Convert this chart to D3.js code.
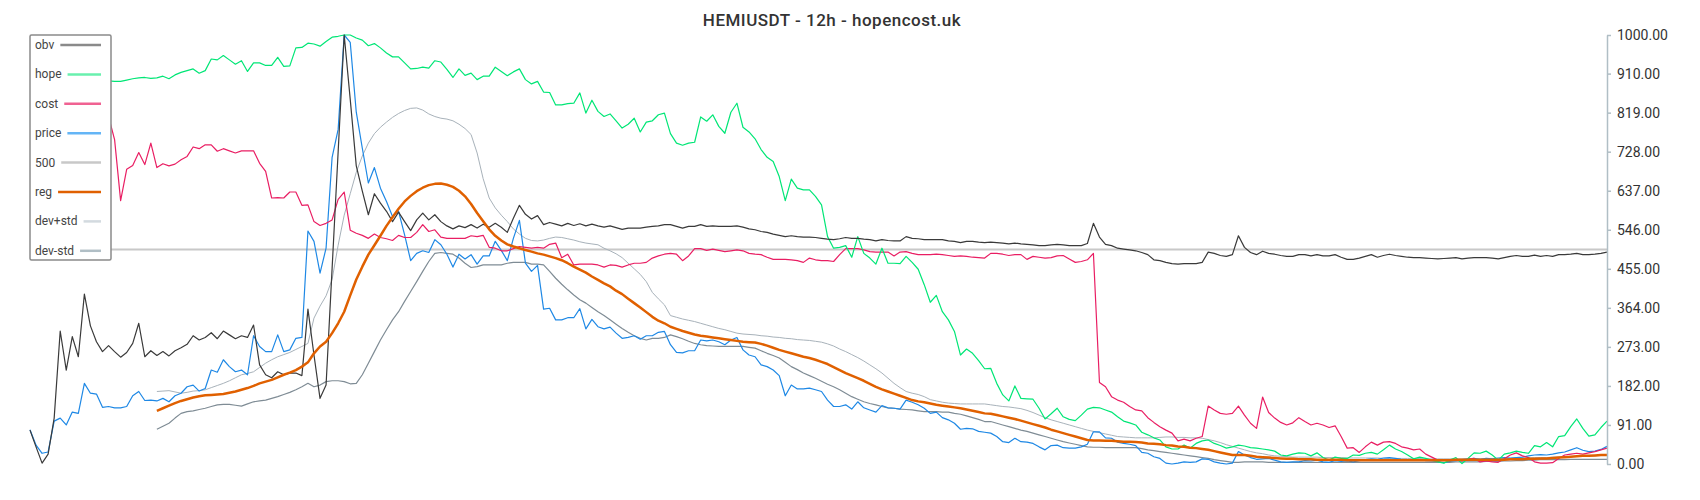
<!DOCTYPE html>
<html>
<head>
<meta charset="utf-8">
<script src="https://d3js.org/d3.v7.min.js"></script>
<style>
  body { margin: 0; background: #fff; }
  svg { display: block; font-family: Roboto, "Noto Sans", sans-serif; }
</style>
</head>
<body>
<svg id="chart" width="1700" height="500"></svg>
<script>
// chart data, one value per 12h bar
var title = "HEMIUSDT - 12h - hopencost.uk";
var yTicks = [0, 91, 182, 273, 364, 455, 546, 637, 728, 819, 910, 1000];
var barCount = 262;
var level500 = 500;

var obv = [
  79,40,2,23,107,310,219,297,250,396,
  322,285,262,276,262,249,260,281,328,250,
  264,253,262,252,264,271,279,299,289,295,
  306,292,310,301,292,299,295,324,231,208,
  201,215,208,212,212,206,361,254,153,184,
  456,728,1000,850,695,636,581,630,608,589,
  565,587,565,544,569,585,569,581,565,555,
  548,555,551,558,550,559,552,561,552,540,
  573,603,582,571,579,558,563,559,555,561,
  556,560,555,559,555,552,555,551,547,550,
  550,550,552,554,555,558,558,554,550,554,
  554,558,554,555,554,554,554,555,552,548,
  546,542,540,536,533,530,532,530,529,529,
  528,526,524,523,525,528,526,526,524,523,
  520,523,521,520,520,530,526,525,523,523,
  523,523,520,519,516,519,519,517,516,517,
  516,515,513,515,513,512,511,509,509,511,
  512,511,509,509,509,514,561,529,512,509,
  503,501,499,497,493,488,476,474,470,467,
  466,467,467,467,470,494,491,486,484,488,
  532,505,493,488,496,491,489,486,484,484,
  488,488,485,488,485,485,488,482,477,477,
  480,484,488,482,486,489,486,484,482,481,
  481,480,479,478,479,480,481,478,480,481,
  481,481,480,478,481,484,486,484,484,487,
  484,486,484,488,488,489,491,488,488,489,
  491,494
];

var price = [
  80,44,25,28,100,107,91,121,118,188,
  165,163,132,134,131,131,134,159,169,148,
  149,147,153,145,159,165,180,184,170,176,
  219,214,243,227,215,219,208,299,274,262,
  262,301,262,266,293,295,543,519,445,503,
  715,780,1000,983,820,736,655,691,643,612,
  577,589,534,474,491,497,493,523,511,489,
  459,489,478,488,466,485,485,519,498,474,
  526,568,468,449,463,361,363,336,336,341,
  341,362,315,337,320,315,319,305,293,295,
  299,291,299,299,307,309,278,260,259,264,
  264,289,287,289,285,278,289,295,266,254,
  250,231,227,219,206,159,184,175,175,177,
  173,169,149,134,134,138,128,145,131,126,
  121,136,131,130,128,149,144,138,130,118,
  121,108,103,95,81,83,82,76,74,72,
  64,52,50,60,52,51,48,40,33,43,
  44,38,37,37,40,46,75,75,61,60,
  51,48,46,43,27,25,17,13,2,0,
  2,5,4,5,12,11,5,2,0,2,
  29,21,15,11,12,13,9,5,4,5,
  5,8,7,9,5,4,8,6,7,5,
  8,10,12,11,14,15,13,11,10,9,
  11,8,7,6,3,6,8,10,12,13,
  11,13,12,14,15,14,15,16,19,21,
  22,21,23,26,28,33,38,32,29,30,
  34,41
];

// hope and cost begin at bar 13
var hopeStart = 13;
var hope = [
  893,892,892,895,898,900,901,899,900,904,
  898,907,913,917,921,911,917,944,942,952,
  942,932,940,915,935,935,929,929,948,927,
  928,970,971,981,979,974,985,995,997,1000,
  1000,993,988,975,980,970,958,949,949,935,
  921,922,925,923,940,937,920,901,921,906,
  911,896,904,904,925,915,905,914,921,896,
  886,892,867,866,837,837,840,841,865,818,
  848,822,810,816,800,783,792,806,774,797,
  800,814,818,770,748,743,748,750,809,799,
  814,787,771,820,841,785,774,758,733,715,
  705,670,614,664,643,639,639,624,604,530,
  503,505,509,482,530,491,480,466,503,468,
  468,467,484,470,454,418,377,393,355,336,
  309,254,268,258,241,222,223,188,161,147,
  182,153,152,151,130,105,117,130,110,104,
  101,114,128,132,131,126,121,110,100,96,
  91,74,68,61,56,40,35,35,44,37,
  48,54,56,48,43,37,40,44,42,38,
  37,35,33,30,21,19,23,26,25,19,
  26,15,9,16,13,13,21,20,25,27,
  23,33,44,35,29,21,12,16,13,9,
  5,2,9,15,1,13,26,25,30,21,
  9,23,26,30,27,25,43,40,50,40,
  64,66,87,105,83,65,68,85,100
];

var costStart = 13;
var cost = [
  810,756,614,687,696,726,698,748,691,700,
  695,699,709,717,739,735,744,744,729,735,
  730,725,730,730,730,701,682,620,621,620,
  634,634,603,604,565,556,561,569,617,634,
  545,538,533,526,536,528,525,521,533,528,
  528,540,558,542,546,529,526,526,526,526,
  532,530,533,505,503,497,497,502,507,505,
  503,505,503,512,515,481,489,464,466,466,
  466,464,459,464,463,459,464,468,468,470,
  480,485,489,491,489,474,485,502,502,498,
  501,498,495,497,499,497,491,489,488,482,
  477,477,477,476,474,470,480,476,474,474,
  472,488,502,502,502,499,495,494,494,494,
  485,494,495,491,488,488,488,489,488,486,
  484,485,484,482,481,480,491,491,489,486,
  488,488,477,484,482,480,481,485,486,478,
  470,472,476,491,190,180,157,149,144,134,
  126,124,108,97,87,79,72,54,58,54,
  60,64,135,126,118,116,118,135,114,95,
  83,156,120,107,97,91,96,108,99,91,
  95,91,85,89,64,37,38,27,40,51,
  44,51,52,48,40,37,33,35,23,16,
  9,9,9,9,7,11,13,5,7,5,
  4,12,21,26,19,15,5,2,2,3,
  13,21,23,25,23,26,29,33,37
];

// regression and bands begin at bar 21
var regStart = 21;
var reg = [
  124,130,136,142,147,151,155,158,160,161,
  162,163,166,169,173,177,182,188,192,196,
  202,208,213,219,227,237,258,274,285,305,
  328,355,393,430,460,488,510,532,555,575,
  595,612,625,636,644,650,653,654,651,646,
  637,624,606,585,566,547,532,521,512,507,
  503,499,495,491,488,484,480,475,468,460,
  453,446,437,429,421,414,404,396,385,375,
  365,354,343,334,328,320,315,310,306,302,
  299,297,295,293,291,289,287,285,284,283,
  280,276,271,266,262,258,254,250,247,243,
  238,233,226,219,212,206,200,194,187,180,
  174,169,164,159,154,149,146,144,141,138,
  136,134,132,130,127,124,121,118,117,114,
  111,108,105,101,97,93,89,85,80,76,
  72,68,64,60,56,55,55,54,54,53,
  52,52,51,50,48,47,46,44,43,41,
  40,38,37,35,33,30,27,24,21,21,
  21,19,17,16,15,14,13,12,12,11,
  11,11,10,10,10,10,10,9,9,9,
  9,9,9,9,9,9,9,9,9,9,
  9,9,9,9,9,10,10,10,10,10,
  10,10,10,10,11,11,11,12,12,13,
  13,14,15,16,17,18,19,19,20,21,21
];

var devUp = [
  169,170,171,168,165,167,170,171,173,178,
  183,188,194,201,208,211,215,225,235,243,
  250,255,260,267,274,281,340,368,392,430,
  510,580,630,680,718,748,770,785,797,808,
  817,824,829,830,825,816,810,806,804,800,
  792,782,768,725,665,620,597,580,565,548,
  536,526,521,520,522,526,529,528,525,522,
  518,515,513,511,503,497,490,481,468,455,
  442,425,400,385,371,346,342,338,335,332,
  328,324,320,316,313,309,305,303,302,301,
  299,298,296,295,293,292,290,289,288,286,
  284,280,275,268,262,255,248,240,231,222,
  212,200,188,178,169,165,162,157,150,147,
  144,142,141,140,140,140,140,140,138,136,
  134,133,131,129,125,120,114,108,103,99,
  95,91,87,83,79,76,73,70,67,64,
  63,62,61,61,61,61,62,63,63,62,
  62,61,61,60,57,54,50,45,41,37,
  33,29,26,24,21,19,18,17,16,16,
  16,16,16,15,15,15,15,14,14,14,
  14,14,14,13,13,13,13,13,13,13,
  12,12,12,12,12,12,12,12,12,12,
  13,13,13,13,13,14,14,14,15,15,
  15,16,16,17,17,18,18,19,19,20,20
];

var devDown = [
  81,88,95,107,118,122,124,127,130,134,
  138,139,139,137,135,140,145,147,149,153,
  157,162,167,173,180,188,180,184,192,194,
  194,192,187,188,208,235,262,289,313,336,
  355,379,402,425,449,472,491,493,491,489,
  480,468,458,460,464,464,464,464,468,470,
  470,470,466,466,464,449,433,419,406,394,
  383,375,365,355,346,336,326,316,307,299,
  293,289,293,293,295,301,297,292,286,281,
  278,276,275,274,274,274,274,274,272,270,
  264,258,253,247,237,227,220,212,206,200,
  193,186,180,173,165,157,151,145,141,138,
  134,131,130,128,127,126,124,122,122,122,
  121,121,118,116,112,108,104,99,99,95,
  91,87,83,79,76,72,68,64,60,56,
  52,49,46,43,40,39,39,38,38,38,
  38,38,38,36,33,31,29,27,25,23,
  21,19,17,15,13,10,8,6,4,4,
  5,5,5,5,4,4,4,4,4,4,
  4,4,4,4,4,4,4,4,4,4,
  4,4,4,4,4,4,4,4,4,4,
  4,4,4,4,4,5,5,5,5,5,
  6,6,6,7,7,8,8,9,9,10,
  10,10,10,10,11,11,11,11,11,11,11
];

var svg = d3.select("#chart");

var x = d3.scaleLinear().domain([0, barCount - 1]).range([30, 1607]);
var y = d3.scaleLinear().domain([0, 1000]).range([464, 35]);

function points(values, start) {
  return values.map(function(v, i) { return [start + i, v]; });
}

var line = d3.line()
  .x(function(d) { return x(d[0]); })
  .y(function(d) { return y(d[1]); });

// series in legend order, drawing order is set below
var series = [
  {name: "obv",     data: points(obv, 0),                     color: "#3a3a3a", legend: "#8a8a8a", width: 1.2},
  {name: "hope",    data: points(hope, hopeStart),            color: "#00e676", legend: "#69f0ae", width: 1.2},
  {name: "cost",    data: points(cost, costStart),            color: "#e91e63", legend: "#f06292", width: 1.2},
  {name: "price",   data: points(price, 0),                   color: "#1e88e5", legend: "#64b5f6", width: 1.2},
  {name: "500",     data: [[0, level500], [barCount - 1, level500]], color: "#c8c8c8", legend: "#c8c8c8", width: 2},
  {name: "reg",     data: points(reg, regStart),              color: "#e06000", legend: "#e06000", width: 2.5},
  {name: "dev+std", data: points(devUp, regStart),            color: "#a8b2ba", legend: "#d3dadf", width: 1},
  {name: "dev-std", data: points(devDown, regStart),          color: "#7f8c95", legend: "#b0bec5", width: 1.2}
];

var drawOrder = ["500", "dev+std", "dev-std", "price", "cost", "hope", "obv", "reg"];

var plot = svg.append("g");
drawOrder.forEach(function(n) {
  var s = series.filter(function(d) { return d.name === n; })[0];
  plot.append("path")
    .attr("d", line(s.data))
    .attr("fill", "none")
    .attr("stroke", s.color)
    .attr("stroke-width", s.width)
    .attr("stroke-linejoin", "round");
});

// right value axis
var axis = d3.axisRight(y)
  .tickValues(yTicks)
  .tickFormat(d3.format(".2f"))
  .tickSize(4)
  .tickSizeOuter(0)
  .tickPadding(6);

var gAxis = svg.append("g")
  .attr("transform", "translate(1607,0)")
  .call(axis)
  .attr("font-family", "Roboto, sans-serif")
  .attr("font-size", 14);
gAxis.select(".domain").attr("stroke", "#b0bec5").attr("stroke-width", 1.5);
gAxis.selectAll(".tick line").attr("stroke", "#b0bec5").attr("stroke-width", 1.5);
gAxis.selectAll(".tick text").attr("fill", "#333");

// title
svg.append("text")
  .attr("x", 832)
  .attr("y", 26)
  .attr("text-anchor", "middle")
  .attr("font-size", 17)
  .attr("font-weight", 500)
  .attr("letter-spacing", 0.5)
  .attr("fill", "#333")
  .text(title);

// legend box covers the lines behind it
var legend = svg.append("g");
legend.append("rect")
  .attr("x", 30)
  .attr("y", 35)
  .attr("width", 81)
  .attr("height", 225)
  .attr("rx", 1.5)
  .attr("fill", "#fff")
  .attr("stroke", "#8a8a8a")
  .attr("stroke-width", 1.5);

series.forEach(function(s, i) {
  var cy = 45 + i * 29.4;
  var t = legend.append("text")
    .attr("x", 35)
    .attr("y", cy + 4)
    .attr("font-size", 12)
    .attr("fill", "#444")
    .text(s.name);
  var tw = t.node().getComputedTextLength();
  legend.append("line")
    .attr("x1", 35 + tw + 6)
    .attr("x2", 101)
    .attr("y1", cy)
    .attr("y2", cy)
    .attr("stroke", s.legend)
    .attr("stroke-width", 2.5);
});
</script>
</body>
</html>
